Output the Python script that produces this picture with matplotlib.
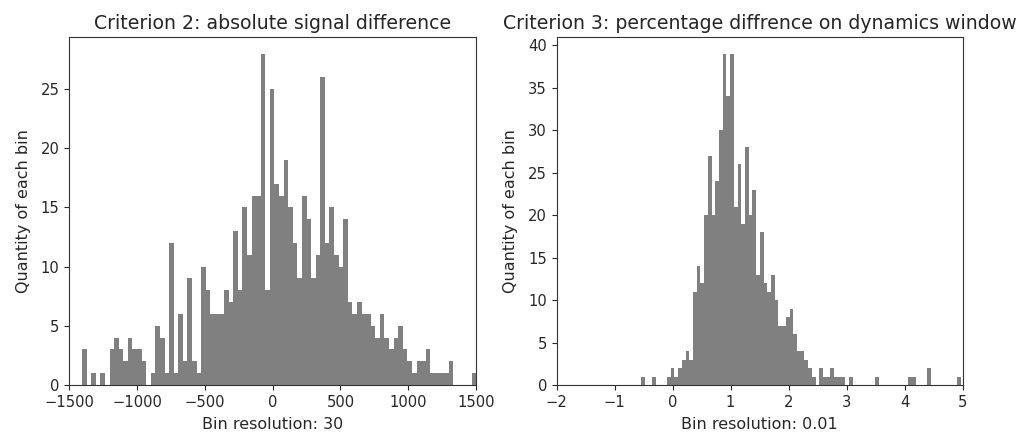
import numpy as np
import matplotlib
matplotlib.use("Agg")
import matplotlib.pyplot as plt

# ---- data ----
left_start = -1406.0
left_width = 33.8
left_counts = [3, 0, 1, 0, 1, 0, 3, 4, 3, 2,
               4, 3, 3, 2, 0, 1, 5, 4, 1, 12,
               1, 6, 2, 9, 2, 1, 10, 8, 6, 6,
               6, 8, 7, 13, 8, 15, 11, 16, 16, 28,
               8, 25, 17, 16, 19, 15, 12, 9, 16, 14,
               9, 11, 26, 12, 15, 11, 10, 14, 7, 6,
               7, 6, 6, 5, 4, 6, 4, 3, 4, 5,
               3, 2, 1, 2, 2, 3, 1, 1, 1, 1,
               2, 0, 0, 0, 0, 1]

right_start = -0.547
right_width = 0.0641
right_counts = [1, 0, 0, 1, 0, 0, 0, 1, 2, 1,
                2, 3, 4, 3, 11, 14, 12, 20, 27, 20,
                24, 30, 39, 34, 39, 21, 26, 19, 28, 20,
                23, 13, 18, 12, 11, 13, 10, 7, 7, 8,
                9, 6, 4, 4, 3, 2, 1, 0, 2, 1,
                1, 2, 1, 1, 1, 0, 1, 0, 0, 0,
                0, 0, 0, 1, 0, 0, 0, 0, 0, 0,
                0, 0, 1, 1, 0, 0, 0, 2, 0, 0,
                0, 0, 0, 0, 0, 1]

titles = ["Criterion 2: absolute signal difference",
          "Criterion 3: percentage diffrence on dynamics window"]
xlabels = ["Bin resolution: 30", "Bin resolution: 0.01"]
ylabel = "Quantity of each bin"
xlims = [(-1500, 1500), (-2, 5)]

# ---- figure ----
fig = plt.figure(figsize=(10.25, 4.34), dpi=100)
H = 434.0
W = 1025.0
ax1 = fig.add_axes([69.3 / W, (H - 385) / H, 406.7 / W, 348 / H])
ax2 = fig.add_axes([556.7 / W, (H - 385) / H, 405.8 / W, 348 / H])

tick_fs = 10.6
label_fs = 11.5
title_fs = 13.6

for ax, start, width, counts, title, xl, lim in [
    (ax1, left_start, left_width, left_counts, titles[0], xlabels[0], xlims[0]),
    (ax2, right_start, right_width, right_counts, titles[1], xlabels[1], xlims[1]),
]:
    counts = np.asarray(counts, dtype=float)
    edges = start + width * np.arange(len(counts) + 1)
    centers = 0.5 * (edges[:-1] + edges[1:])
    ax.hist(centers, bins=edges, weights=counts, color="gray")
    ax.set_xlim(*lim)
    ax.set_title(title, fontsize=title_fs, color="#262626")
    ax.set_xlabel(xl, fontsize=label_fs, color="#262626", labelpad=5)
    ax.set_ylabel(ylabel, fontsize=label_fs, color="#262626", labelpad=7)
    ax.tick_params(labelsize=tick_fs, colors="#262626")
    for s in ax.spines.values():
        s.set_color("#333333")

ax1.set_xticks(np.arange(-1500, 1501, 500))
ax1.set_yticks(np.arange(0, 26, 5))
ax2.set_xticks(np.arange(-2, 6, 1))
ax2.set_yticks(np.arange(0, 41, 5))

fig.savefig("out.png", dpi=100)
